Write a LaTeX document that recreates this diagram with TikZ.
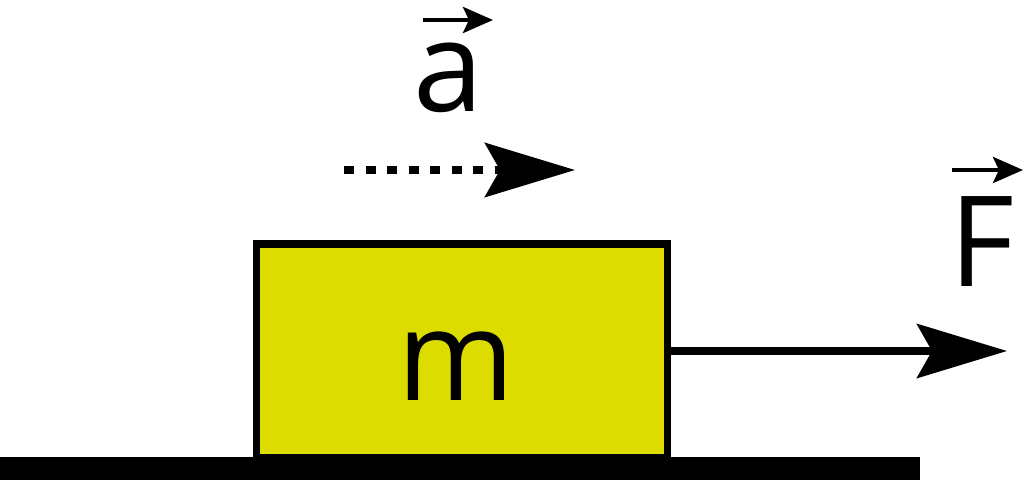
\documentclass[tikz,border=0pt]{standalone}
\usepackage{fontspec}
\setmainfont{Open Sans}
\usetikzlibrary{arrows.meta,positioning}
\definecolor{massyellow}{RGB}{220,220,0}
\begin{document}
\begin{tikzpicture}[
		x=1pt, y=1pt,
		big/.style={font=\fontsize{126}{130}\selectfont, inner sep=0pt, anchor=base},
		block/.style={draw, line width=7.5pt, fill=massyellow, inner sep=0pt,
			minimum width=411pt, minimum height=214pt},
		bighead/.style={-{Stealth[length=90pt,width=54pt,inset=15pt]}},
		smallhead/.style={line width=4.5pt, -{Stealth[length=30pt,width=26pt,inset=6pt]}},
		]
		\useasboundingbox (0,0) rectangle (1024,480);
		
		% body on the floor
		\node[block] (mass) at (462,129) {};
		\fill (0,0) rectangle (920,23);
		\node[big] (mlabel) at (456,80) {m};
		
		% applied force
		\coordinate (Ftip) at (1007,129);
		\draw[line width=7.5pt, bighead] (mass.east) -- (Ftip);
		\node[big] (Flabel) at (982,194) {F};
		\coordinate (Fvs) at (952,310);
		\coordinate (Fve) at (1023,310);
		\draw[smallhead] (Fvs) -- (Fve);
		
		% acceleration
		\coordinate (as) at (344,310);
		\coordinate (ae) at (575,310);
		\draw[line width=8pt, dash pattern=on 10pt off 11.5pt, bighead] (as) -- (ae);
		\node[big] (alabel) at (449,368) {a};
		\coordinate (avs) at (423,460);
		\coordinate (ave) at (493,460);
		\draw[smallhead] (avs) -- (ave);
\end{tikzpicture}
\end{document}
